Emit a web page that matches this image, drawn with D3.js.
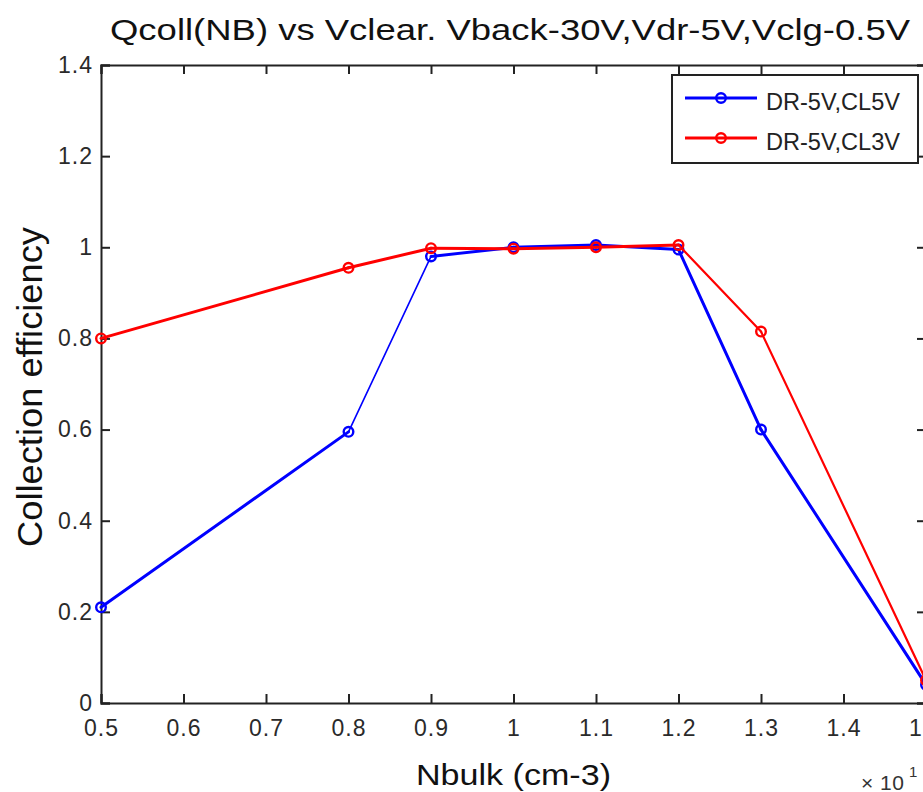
<!DOCTYPE html>
<html>
<head>
<meta charset="utf-8">
<script src="https://cdn.jsdelivr.net/npm/d3@7"></script>
<style>
  body { margin: 0; background: #fff; }
  text { font-family: "Liberation Sans", Arial, sans-serif; }
</style>
</head>
<body>
<div id="chart"></div>
<script>
// data
var nbulk = [0.5, 0.8, 0.9, 1.0, 1.1, 1.2, 1.3, 1.5];
var effCL5 = [0.21, 0.595, 0.98, 1.0, 1.005, 0.995, 0.60, 0.04];
var effCL3 = [0.80, 0.955, 0.998, 0.997, 1.0, 1.005, 0.815, 0.05];
var seriesNames = ["DR-5V,CL5V", "DR-5V,CL3V"];
var seriesColors = ["#0000ff", "#ff0000"];
var xTicks = [0.5, 0.6, 0.7, 0.8, 0.9, 1, 1.1, 1.2, 1.3, 1.4, 1.5];
var yTicks = [0, 0.2, 0.4, 0.6, 0.8, 1, 1.2, 1.4];

var width = 923, height = 792;
var margin = {top: 65, left: 101, bottom: 89, right: -3};

var svg = d3.select("#chart")
  .append("svg")
  .attr("width", width)
  .attr("height", height);

var xScale = d3.scaleLinear()
  .domain([0.5, 1.5])
  .range([margin.left, width - margin.right]);

var yScale = d3.scaleLinear()
  .domain([0, 1.4])
  .range([height - margin.bottom, margin.top]);

// clip for the plot area
svg.append("clipPath").attr("id", "plotclip")
  .append("rect")
  .attr("x", margin.left - 8).attr("y", margin.top - 10)
  .attr("width", width - margin.left + 8).attr("height", yScale(0) - margin.top + 20);

// axes (matlab style, ticks inward)
var tickLen = 9;
var bottomAxis = svg.append("g")
  .attr("transform", "translate(0," + yScale(0) + ")")
  .call(d3.axisBottom(xScale).tickValues(xTicks).tickSize(-tickLen).tickPadding(17).tickFormat(d3.format("")));
var topAxis = svg.append("g")
  .attr("transform", "translate(0," + yScale(1.4) + ")")
  .call(d3.axisTop(xScale).tickValues(xTicks).tickSize(-tickLen).tickFormat(""));
var leftAxis = svg.append("g")
  .attr("transform", "translate(" + margin.left + ",0)")
  .call(d3.axisLeft(yScale).tickValues(yTicks).tickSize(-tickLen).tickPadding(8).tickFormat(d3.format("")));
var rightAxis = svg.append("g")
  .attr("transform", "translate(" + xScale(1.5) + ",0)")
  .call(d3.axisRight(yScale).tickValues(yTicks).tickSize(-tickLen).tickFormat(""));

[bottomAxis, topAxis, leftAxis, rightAxis].forEach(function(a) {
  a.select(".domain").attr("stroke", "#222").attr("stroke-width", 2);
  a.selectAll(".tick line").attr("stroke", "#222").attr("stroke-width", 2);
  a.selectAll(".tick text")
    .attr("fill", "#2a2a2a")
    .style("font-family", "'Liberation Sans', Arial, sans-serif")
    .style("font-size", "23px")
    .style("letter-spacing", "1px");
});

// lines, drawn segment by segment (the original has uneven line weights)
var segWidths = [[3, 1.6, 3, 3, 3, 3, 3], [3, 3, 3, 3, 3, 2.2, 2.2]];
var line = d3.line()
  .x(function(d) { return xScale(d[0]); })
  .y(function(d) { return yScale(d[1]); });

var series = [effCL5, effCL3];
series.forEach(function(vals, i) {
  var pts = nbulk.map(function(x, j) { return [x, vals[j]]; });
  var segs = d3.pairs(pts);
  var g = svg.append("g").attr("clip-path", "url(#plotclip)");
  g.selectAll("path")
    .data(segs)
    .enter()
    .append("path")
    .attr("d", line)
    .attr("fill", "none")
    .attr("stroke", seriesColors[i])
    .attr("stroke-width", function(d, j) { return segWidths[i][j]; })
    .attr("stroke-linecap", "round");
  g.selectAll("circle")
    .data(pts)
    .enter()
    .append("circle")
    .attr("cx", function(d) { return xScale(d[0]); })
    .attr("cy", function(d) { return yScale(d[1]); })
    .attr("r", 4.8)
    .attr("fill", "none")
    .attr("stroke", seriesColors[i])
    .attr("stroke-width", 2.4);
});

// legend
var legend = svg.append("g").attr("transform", "translate(672,75)");
legend.append("rect")
  .attr("width", 246).attr("height", 88)
  .attr("fill", "#fff").attr("stroke", "#222").attr("stroke-width", 2);
seriesNames.forEach(function(name, i) {
  var y = 23 + i * 40;
  legend.append("line")
    .attr("x1", 13).attr("x2", 85).attr("y1", y).attr("y2", y)
    .attr("stroke", seriesColors[i]).attr("stroke-width", 3);
  legend.append("circle")
    .attr("cx", 49).attr("cy", y).attr("r", 4.8)
    .attr("fill", "none").attr("stroke", seriesColors[i]).attr("stroke-width", 2.4);
  legend.append("text")
    .attr("x", 94).attr("y", y + 12)
    .attr("fill", "#222")
    .attr("textLength", 134)
    .attr("lengthAdjust", "spacingAndGlyphs")
    .style("font-size", "23px")
    .text(name);
});

// title and labels
svg.append("text")
  .attr("x", 110).attr("y", 40)
  .attr("fill", "#111")
  .attr("textLength", 800)
  .attr("lengthAdjust", "spacingAndGlyphs")
  .style("font-size", "30px")
  .text("Qcoll(NB) vs Vclear. Vback-30V,Vdr-5V,Vclg-0.5V");

svg.append("text")
  .attr("transform", "translate(42,547) rotate(-90)")
  .attr("fill", "#111")
  .attr("textLength", 320)
  .attr("lengthAdjust", "spacingAndGlyphs")
  .style("font-size", "35px")
  .text("Collection efficiency");

svg.append("text")
  .attr("x", 416).attr("y", 785)
  .attr("fill", "#111")
  .attr("textLength", 195)
  .attr("lengthAdjust", "spacingAndGlyphs")
  .style("font-size", "29px")
  .text("Nbulk (cm-3)");

var mult = svg.append("text")
  .attr("x", 861).attr("y", 790)
  .attr("fill", "#333")
  .style("font-size", "21px");
mult.append("tspan").attr("textLength", 43).text("\u00d7 10");
mult.append("tspan").attr("x", 909).attr("dy", -13).style("font-size", "15px").text("1");
</script>
</body>
</html>
